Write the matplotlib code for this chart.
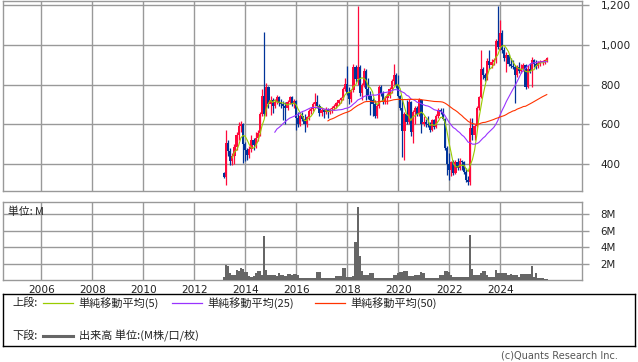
import matplotlib
matplotlib.use('Agg')
import matplotlib.pyplot as plt
import numpy as np
import pandas as pd

# ---------------- data (monthly, Mar 2013 .. Nov 2025) ----------------
start_year = 2013.16
opens = [355, 335, 505, 465, 415, 440, 485, 545, 590, 600,
         500, 470, 445, 475, 520, 495, 530, 555, 650, 745, 650, 790,
         700, 720, 690, 710, 735, 705, 700, 690, 680, 710, 735, 700,
         715, 630, 600, 640, 625, 600, 635, 665, 675, 700, 712, 690,
         655, 670, 660, 675, 660, 675, 680, 690, 705, 720, 730, 780,
         805, 760, 725, 775, 890, 830, 890, 760, 800, 870, 780, 745,
         720, 700, 640, 690, 790, 760, 715, 730, 740, 780, 820, 850,
         800, 745, 680, 565, 650, 610, 710, 560, 660, 680, 650, 720,
         600, 610, 600, 595, 570, 620, 585, 640, 670, 660, 625, 480,
         400, 370, 410, 355, 410, 380, 415, 410, 360, 320, 310, 580,
         545, 590, 680, 735, 880, 850, 835, 920, 900, 915, 925, 1020,
         990, 1060, 975, 935, 950, 905, 895, 890, 850, 890, 870, 880,
         900, 790, 880, 870, 925, 905, 895, 910, 915, 920, 925]
highs = [360, 572, 520, 480, 455, 500, 560, 610, 618, 605,
         510, 480, 490, 545, 530, 560, 570, 660, 780, 1064, 810, 795,
         740, 730, 725, 748, 745, 725, 715, 710, 720, 740, 745, 725,
         720, 660, 650, 660, 650, 640, 675, 685, 710, 756, 748, 700,
         680, 675, 685, 680, 680, 690, 700, 710, 725, 735, 790, 835,
         895, 790, 780, 905, 900, 1195, 900, 810, 885, 880, 835, 770,
         730, 720, 700, 800, 800, 770, 740, 760, 790, 830, 905, 860,
         850, 750, 725, 660, 720, 725, 715, 670, 690, 690, 730, 725,
         640, 625, 640, 610, 625, 625, 650, 680, 681, 680, 630, 490,
         455, 415, 420, 420, 430, 430, 420, 415, 380, 340, 630, 630,
         600, 690, 745, 975, 890, 860, 935, 975, 930, 935, 1030, 1195,
         1125, 1075, 990, 965, 955, 935, 925, 900, 900, 915, 905, 910,
         905, 900, 910, 940, 930, 925, 920, 925, 925, 930, 940]
lows = [330, 296, 440, 395, 395, 400, 470, 520, 560, 405,
        415, 420, 430, 460, 470, 480, 515, 540, 640, 640, 640, 680,
        645, 655, 680, 700, 690, 680, 620, 600, 670, 700, 690, 680,
        572, 585, 590, 615, 563, 585, 620, 650, 665, 690, 680, 640,
        640, 630, 650, 630, 650, 655, 670, 680, 695, 705, 720, 770,
        750, 700, 710, 765, 815, 800, 740, 720, 790, 720, 725, 645,
        640, 630, 630, 680, 740, 700, 700, 700, 730, 760, 800, 785,
        735, 670, 438, 420, 600, 600, 540, 505, 600, 640, 640, 555,
        590, 585, 585, 560, 565, 575, 580, 630, 650, 620, 470, 346,
        321, 340, 345, 350, 370, 370, 370, 350, 310, 296, 296, 520,
        520, 585, 670, 730, 830, 820, 825, 880, 885, 900, 910, 980,
        975, 960, 920, 865, 895, 885, 880, 706, 840, 860, 860, 870,
        780, 785, 860, 790, 890, 880, 885, 895, 900, 905, 915]
closes = [335, 505, 465, 415, 440, 485, 545, 590, 600, 500,
          470, 445, 475, 520, 495, 530, 555, 650, 740, 650, 790, 700,
          720, 690, 710, 735, 705, 700, 690, 680, 710, 735, 700, 715,
          630, 600, 640, 625, 600, 635, 665, 675, 700, 712, 690, 655,
          670, 660, 675, 660, 675, 680, 690, 705, 720, 730, 780, 805,
          760, 725, 775, 890, 830, 890, 760, 800, 870, 780, 745, 720,
          700, 640, 690, 790, 760, 715, 730, 740, 780, 820, 850, 800,
          745, 680, 565, 650, 610, 710, 560, 660, 680, 650, 720, 600,
          610, 600, 595, 570, 620, 585, 640, 670, 660, 625, 480, 400,
          370, 410, 355, 410, 380, 415, 410, 360, 320, 310, 580, 545,
          590, 680, 735, 880, 850, 835, 920, 900, 915, 925, 1020, 990,
          1060, 975, 935, 950, 905, 895, 890, 850, 890, 870, 880, 900,
          790, 880, 870, 925, 905, 895, 910, 915, 920, 925, 935]
volumes = [0.4, 1.9, 1.8, 0.9, 0.7, 0.7, 1.3, 1.2, 1.5, 1.4,
           1.0, 1.0, 0.5, 0.4, 0.5, 0.9, 1.2, 1.1, 0.7, 5.4, 1.3, 0.7,
           0.6, 0.6, 0.7, 0.5, 0.9, 0.6, 0.6, 0.55, 0.8, 0.8, 0.65, 0.8,
           0.8, 0.7, 0.35, 0.35, 0.3, 0.25, 0.25, 0.25, 0.25, 0.3, 1.0, 1.0,
           0.35, 0.35, 0.3, 0.3, 0.3, 0.35, 0.35, 0.5, 0.5, 0.55, 1.5, 1.5,
           0.45, 0.45, 0.45, 0.5, 4.7, 8.9, 3.0, 1.15, 0.7, 0.65, 0.6, 0.9,
           0.9, 0.35, 0.3, 0.3, 0.3, 0.3, 0.35, 0.3, 0.3, 0.35, 0.7, 0.7,
           0.85, 1.0, 1.0, 1.2, 1.2, 0.5, 0.5, 0.5, 0.6, 0.65, 0.65, 1.0,
           0.9, 0.35, 0.3, 0.3, 0.3, 0.3, 0.3, 0.35, 0.7, 0.7, 1.2, 1.2,
           1.0, 0.6, 0.45, 0.4, 0.4, 0.4, 0.4, 0.4, 0.4, 0.45, 5.5, 1.4,
           0.7, 0.6, 0.6, 0.9, 1.1, 1.1, 0.7, 0.45, 0.45, 0.45, 1.3, 0.9,
           0.9, 0.85, 0.9, 0.85, 0.7, 0.75, 0.7, 0.65, 0.6, 0.45, 0.8, 0.8,
           0.8, 0.75, 0.8, 1.7, 0.45, 0.95, 0.3, 0.25, 0.25, 0.2, 0.2]

year_ticks = [2006, 2008, 2010, 2012, 2014, 2016, 2018, 2020, 2022, 2024]
price_ticks = [400, 600, 800, 1000, 1200]
price_labels = ['400', '600', '800', '1,000', '1,200']
vol_ticks = [2, 4, 6, 8]
vol_labels = ['2M', '4M', '6M', '8M']
ma_periods = [5, 25, 50]
ma_labels = ['単純移動平均(5)', '単純移動平均(25)', '単純移動平均(50)']

# ---------------- styling ----------------
UP = '#ff0a3c'
DOWN = '#003399'
MA_COLORS = ['#99cc00', '#9933ff', '#ff3300']
GRID = '#999999'
VOLC = '#666666'
TXT = '#222222'
JP = ['Noto Sans CJK JP', 'DejaVu Sans']

W, H = 638, 362
fig = plt.figure(figsize=(W / 100, H / 100), dpi=100)
fig.patch.set_facecolor('white')


def rect(l, t, r, b):
    return [l / W, 1 - b / H, (r - l) / W, (b - t) / H]


o = np.array(opens, float)
h = np.array(highs, float)
l = np.array(lows, float)
c = np.array(closes, float)
v = np.array(volumes, float)
n = len(c)
x = start_year + np.arange(n) / 12.0
xlim = (2004.51, 2027.22)

# ---------------- price panel ----------------
ax = fig.add_axes(rect(3.3, 0.5, 582.3, 190.5))
ax.set_xlim(*xlim)
ax.set_ylim(268, 1222)
ax.set_xticks(year_ticks)
ax.set_yticks(price_ticks)
ax.grid(True, color=GRID, linewidth=1.0)
ax.set_axisbelow(True)
for s in ax.spines.values():
    s.set_color(GRID)
    s.set_linewidth(1.0)
ax.tick_params(axis='x', length=0, labelbottom=False)
ax.yaxis.tick_right()
ax.tick_params(axis='y', length=5, width=1.0, color=GRID, labelsize=7.6,
               labelcolor=TXT, pad=8)
ax.set_yticklabels(price_labels)

up = c >= o
colors = np.where(up, UP, DOWN)
ax.vlines(x, l, h, colors=colors, linewidth=0.9, zorder=3)
body_lo = np.minimum(o, c)
body_h = np.maximum(np.abs(c - o), 5)
ax.bar(x, body_h, bottom=body_lo, width=0.085, color=colors, linewidth=0,
       zorder=3)

cs = pd.Series(c)
for p, col in zip(ma_periods, MA_COLORS):
    ma = cs.rolling(p).mean().to_numpy()
    ax.plot(x, ma, color=col, linewidth=0.8, zorder=4)

# ---------------- volume panel ----------------
axv = fig.add_axes(rect(3.3, 201.7, 582.3, 280.4))
axv.set_xlim(*xlim)
axv.set_ylim(0, 9.55)
axv.set_xticks(year_ticks)
axv.set_yticks(vol_ticks)
axv.grid(True, color=GRID, linewidth=1.0)
axv.set_axisbelow(True)
for s in axv.spines.values():
    s.set_color(GRID)
    s.set_linewidth(1.0)
axv.bar(x, v, width=1 / 12.0, color=VOLC, linewidth=0, zorder=3)
axv.yaxis.tick_right()
axv.tick_params(axis='y', length=5, width=1.0, color=GRID, labelsize=7.4,
                labelcolor=TXT, pad=8)
axv.set_yticklabels(vol_labels)
axv.tick_params(axis='x', length=0, labelsize=7.6, labelcolor=TXT, pad=3)
axv.set_xticklabels([str(y) for y in year_ticks])
axv.text(0.008, 0.87, '単位: M', transform=axv.transAxes, fontsize=7.8,
         family=JP, color=TXT, va='center', ha='left')

# ---------------- legend box ----------------
axl = fig.add_axes(rect(3.3, 294, 635, 346))
axl.set_xlim(3.3, 635)
axl.set_ylim(346, 294)
axl.set_xticks([])
axl.set_yticks([])
for s in axl.spines.values():
    s.set_color('black')
    s.set_linewidth(1.0)

ly1, ly2 = 303, 336
axl.text(12, ly1, '上段:', fontsize=8, family=JP, color=TXT, va='center')
seg = [(43, 73, 78), (172, 202, 207), (315, 345, 350)]
for (x0, x1, tx), col, lab in zip(seg, MA_COLORS, ma_labels):
    axl.plot([x0, x1], [ly1, ly1], color=col, linewidth=0.9)
    axl.text(tx, ly1, lab, fontsize=8, family=JP, color=TXT, va='center')
axl.text(12, ly2, '下段:', fontsize=8, family=JP, color=TXT, va='center')
axl.plot([43, 73], [ly2, ly2], color=VOLC, linewidth=2.2)
axl.text(79, ly2, '出来高 単位:(M株/口/枚)', fontsize=8, family=JP,
         color=TXT, va='center')

fig.text(618 / W, 1 - 356 / H, '(c)Quants Research Inc.', fontsize=7,
         color='#555555', ha='right', va='center')

fig.savefig('out.png', dpi=100)
